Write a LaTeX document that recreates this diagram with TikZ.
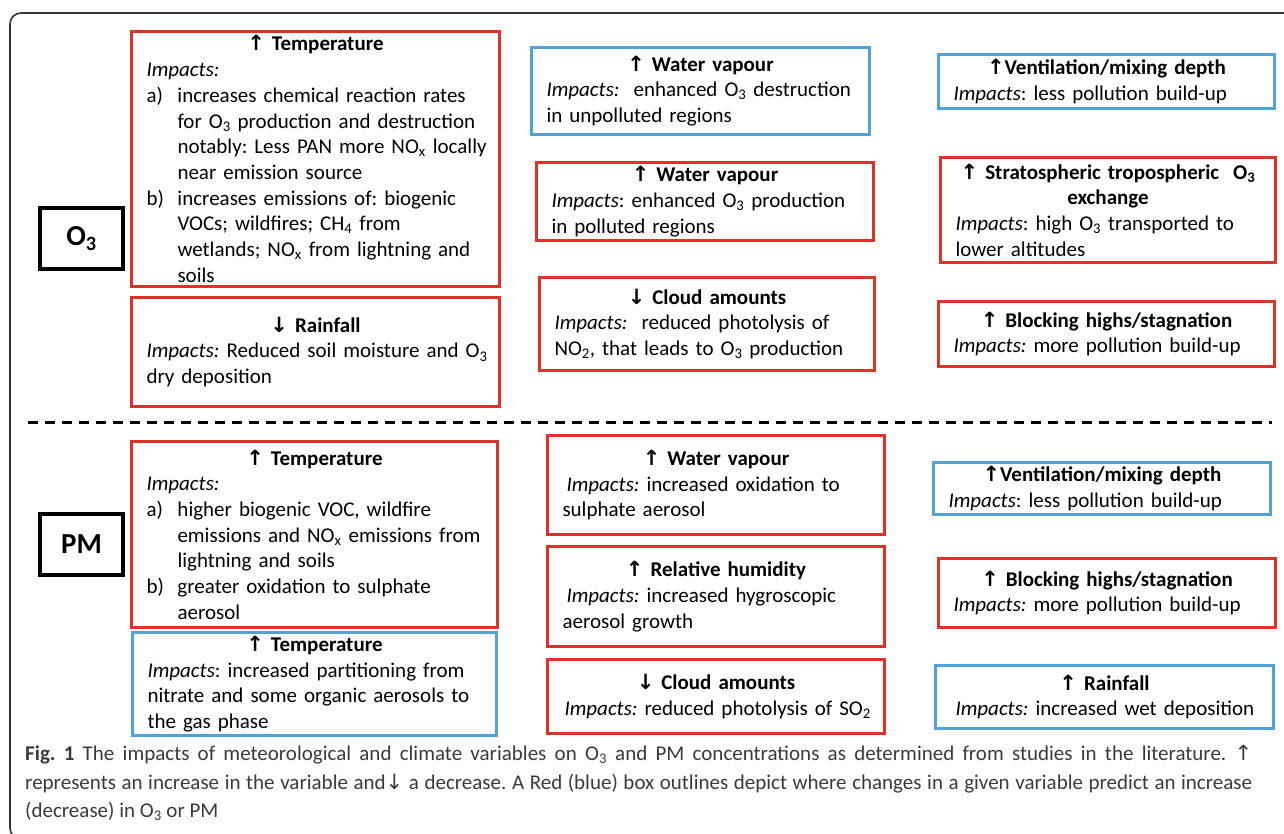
\documentclass[tikz,border=0pt]{standalone}
\usepackage{fontspec}
\setmainfont{Carlito}
\newfontfamily\arrfont{DejaVu Sans}
\definecolor{boxred}{RGB}{222,52,40}
\definecolor{boxblue}{RGB}{80,163,212}
\definecolor{capgray}{RGB}{58,58,58}
\frenchspacing
\newcommand\uparr{{\arrfont ↑}}
\newcommand\dnarr{{\arrfont ↓}}
\newcommand\sbs[1]{\textsubscript{#1}}
% title line, then body lines may run a little past the right margin instead of breaking
\newcommand\ttl[1]{{\centering\bfseries #1\par}\rightskip=-40pt plus 1fil\relax}
\newcommand\itm[2]{\par\hangindent=31pt\hangafter=1\noindent\makebox[31pt][l]{#1}#2\par}

\begin{document}
\begin{tikzpicture}
            [x=1pt,y=-1pt,
             box/.style={draw,line width=3pt,anchor=north west,inner xsep=15pt,inner ysep=1pt,
                         align=left,font=\fontsize{21}{25.7}\selectfont},
             sz/.style 2 args={minimum width=#1,text width=#1-30,minimum height=#2},
             incr/.style={box,draw=boxred},
             decr/.style={box,draw=boxblue},
             spec/.style={draw,line width=4pt,anchor=north west,minimum width=83pt,
                          minimum height=61pt,inner sep=0pt,font=\fontsize{29}{34}\selectfont\bfseries}]
            \useasboundingbox (0,0) rectangle (1284,833);
            \begin{scope}
            \clip (0,0) rectangle (1284,833);
            \draw[line width=1.6pt,color=black!80,rounded corners=11pt]
                (1300,13) -- (10,13) -- (10,839) -- (60,839);
            \end{scope}
            % ozone
            \node[spec](o3) at (38,206) {O\sbs{3}};
            \node[incr,sz={368}{255}](o3t) at (130,30) {\ttl{\uparr\ Temperature}
                \textit{Impacts:}
                \itm{a)}{increases chemical reaction rates\newline for O\sbs{3} production and destruction\newline notably: Less PAN more NO\sbs{x} locally\newline near emission source}
                \itm{b)}{increases emissions of: biogenic\newline VOCs; wildfires; CH\sbs{4} from\newline wetlands; NO\sbs{x} from lightning and\newline soils}};
            \node[incr,sz={368}{109}](o3r) at (130,296) {\ttl{\dnarr\ Rainfall}
                \textit{Impacts:} Reduced soil moisture and O\sbs{3}\newline dry deposition\par};
            \node[decr,sz={338}{87}](o3wb) at (530,46) {\ttl{\uparr\ Water vapour}
                \textit{Impacts:}\ \ enhanced O\sbs{3} destruction\newline in unpolluted regions\par};
            \node[incr,sz={337}{78}](o3wr) at (535,161) {\ttl{\uparr\ Water vapour}
                \textit{Impacts}: enhanced O\sbs{3} production\newline in polluted regions\par};
            \node[incr,sz={335}{93}](o3c) at (538,276) {\ttl{\dnarr\ Cloud amounts}
                \textit{Impacts:}\ \ reduced photolysis of\newline NO\sbs{2}, that leads to O\sbs{3} production\par};
            \node[decr,sz={336}{54}](o3v) at (937,53) {\ttl{\uparr Ventilation/mixing depth}
                \textit{Impacts}: less pollution build-up\par};
            \node[incr,sz={335}{105}](o3s) at (939,156) {\ttl{\uparr\ Stratospheric tropospheric\ \ O\sbs{3}\\ exchange}
                \textit{Impacts}: high O\sbs{3} transported to\newline lower altitudes\par};
            \node[incr,sz={336}{65}](o3b) at (937,300) {\ttl{\uparr\ Blocking highs/stagnation}
                \textit{Impacts:} more pollution build-up\par};
            \draw[line width=3pt,dash pattern=on 10pt off 7pt] (28,422) -- (1272,422);
            % particulate matter
            \node[spec](pm) at (38,512) {PM};
            \node[incr,sz={366}{186}](pmt) at (130,440) {\ttl{\uparr\ Temperature}
                \textit{Impacts:}
                \itm{a)}{higher biogenic VOC, wildfire\newline emissions and NO\sbs{x} emissions from\newline lightning and soils}
                \itm{b)}{greater oxidation to sulphate\newline aerosol}};
            \node[decr,sz={364}{103}](pmtb) at (131,631) {\ttl{\uparr\ Temperature}
                \textit{Impacts}: increased partitioning from\newline nitrate and some organic aerosols to\newline the gas phase\par};
            \node[incr,sz={337}{99}](pmw) at (546,434) {\ttl{\uparr\ Water vapour}
                \hspace{4pt}\textit{Impacts:} increased oxidation to\newline sulphate aerosol\par};
            \node[incr,sz={337}{100}](pmh) at (546,545) {\ttl{\uparr\ Relative humidity}
                \hspace{4pt}\textit{Impacts:} increased hygroscopic\newline aerosol growth\par};
            \node[incr,sz={337}{74}](pmc) at (546,658) {\ttl{\dnarr\ Cloud amounts}
                \hspace{2pt}\textit{Impacts:} reduced photolysis of SO\sbs{2}\par};
            \node[decr,sz={337}{52}](pmv) at (932,461) {\ttl{\uparr Ventilation/mixing depth}
                \textit{Impacts}: less pollution build-up\par};
            \node[incr,sz={337}{69}](pmb) at (937,557) {\ttl{\uparr\ Blocking highs/stagnation}
                \textit{Impacts:} more pollution build-up\par};
            \node[decr,sz={338}{63}](pmr) at (934,664) {\ttl{\uparr\ Rainfall}
                \hspace{5pt}\textit{Impacts:} increased wet deposition\par};
            % caption
            \node[anchor=north west,text width=1227pt,align=justify,inner sep=0pt,text=capgray,
                  font=\fontsize{21}{28.5}\selectfont](cap) at (25,745)
                {{\bfseries Fig. 1} The impacts of meteorological and climate variables on O\sbs{3} and PM concentrations as determined from studies in the literature. \uparr\linebreak
                 represents an increase in the variable and\dnarr{} a decrease. A Red (blue) box outlines depict where changes in a given variable predict an increase\linebreak
                 (decrease) in O\sbs{3} or PM\par};
        \end{tikzpicture}
\end{document}
